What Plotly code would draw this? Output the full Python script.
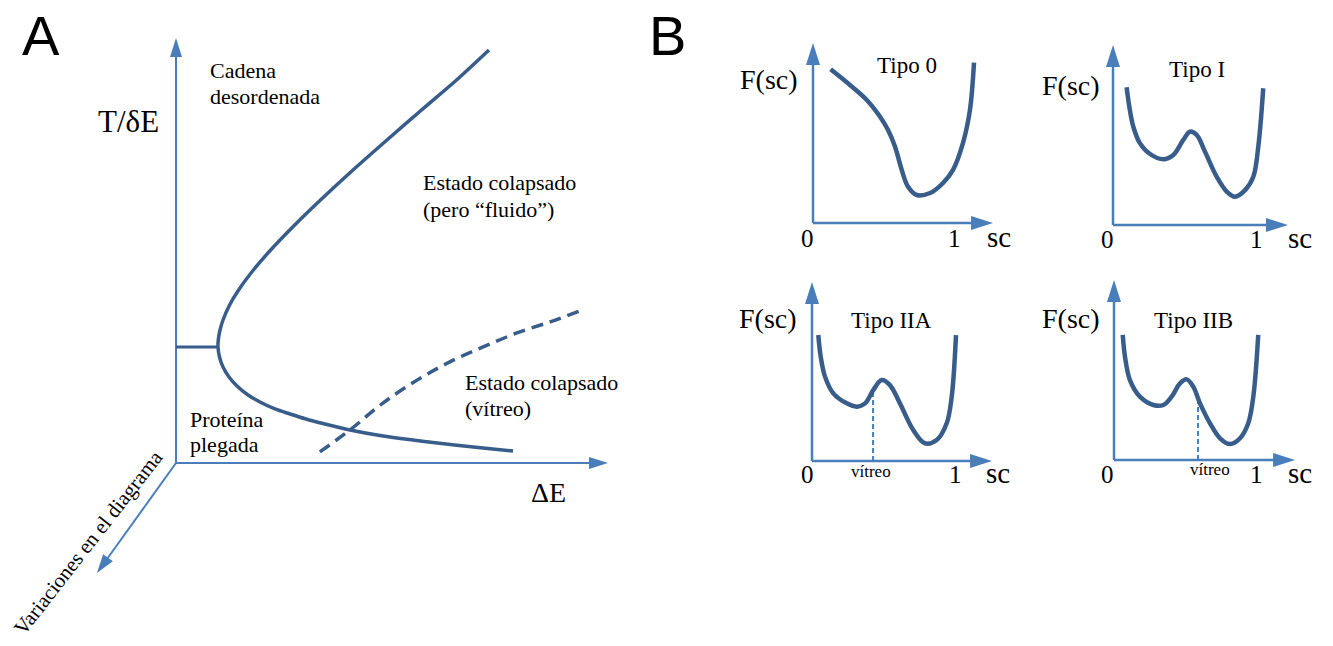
import math
import plotly.graph_objects as go

W, H = 1333, 646
SERIF = "Liberation Serif"
SANS = "Liberation Sans"
AXIS_C = "#4A7EBB"
CURVE_C = "#385D8A"

# ---------------- data ----------------
# Panel A: phase diagram, Delta E (x) vs T/dE (y), arbitrary units 0..10
A_solid_dE = [7.245, 6.495, 5.683, 4.884, 4.097, 3.345, 2.748, 2.192, 1.792, 1.449, 1.241, 1.088, 1.019, 0.979,
              0.972,
              1.007, 1.088, 1.227, 1.412, 1.667, 1.944, 2.292, 2.639, 3.009, 3.403, 4.028, 4.792, 5.949,
              7.106, 7.801]
A_solid_T = [9.718, 9.012, 8.306, 7.600, 6.894, 6.188, 5.600, 5.012, 4.541, 4.071, 3.718, 3.365, 3.129, 2.894,
             2.729,
             2.494, 2.259, 2.024, 1.812, 1.600, 1.435, 1.271, 1.153, 1.035, 0.929, 0.776, 0.635, 0.482,
             0.353, 0.282]
A_stub_dE = [0.0, 0.97]
A_stub_T = [2.73, 2.73]
A_dash_dE = [3.33, 4.03, 4.79, 5.58, 6.34, 7.11, 7.89, 8.66, 9.35]
A_dash_T = [0.26, 0.78, 1.41, 1.95, 2.38, 2.73, 3.06, 3.32, 3.58]

# Panel B: free-energy profiles F(sc), sc from 0 to 1
tipo0_sc = [0.126, 0.264, 0.384, 0.479, 0.536, 0.586, 0.634, 0.679, 0.741, 0.836, 0.929, 1.000, 1.071, 1.121, 1.150]
tipo0_F = [1.098, 0.986, 0.879, 0.759, 0.664, 0.545, 0.379, 0.259, 0.200, 0.214, 0.286, 0.379, 0.571, 0.807, 1.145]

tipoI_sc = [0.096, 0.115, 0.143, 0.190, 0.261, 0.354, 0.425, 0.495, 0.542, 0.589, 0.648, 0.730, 0.801, 0.859, 0.930, 0.988, 1.023, 1.058]
tipoI_F = [0.970, 0.833, 0.692, 0.575, 0.500, 0.463, 0.493, 0.599, 0.657, 0.634, 0.516, 0.340, 0.235, 0.199, 0.246, 0.340, 0.551, 0.963]

tipoIIA_sc = [0.044, 0.061, 0.091, 0.149, 0.243, 0.313, 0.371, 0.429, 0.487, 0.545, 0.615, 0.708, 0.790, 0.872, 0.942, 0.977, 1.007]
tipoIIA_F = [0.881, 0.729, 0.590, 0.473, 0.403, 0.380, 0.403, 0.497, 0.566, 0.531, 0.403, 0.217, 0.124, 0.147, 0.264, 0.450, 0.881]
tipoIIA_vitreo_sc = 0.427
tipoIIA_vitreo_F = 0.497

tipoIIB_sc = [0.062, 0.078, 0.113, 0.184, 0.279, 0.350, 0.409, 0.468, 0.516, 0.562, 0.610, 0.681, 0.752, 0.823, 0.894, 0.952, 0.988, 1.023]
tipoIIB_F = [0.887, 0.732, 0.567, 0.449, 0.390, 0.390, 0.449, 0.544, 0.572, 0.520, 0.402, 0.260, 0.154, 0.113, 0.154, 0.260, 0.449, 0.887]
tipoIIB_vitreo_sc = 0.596
tipoIIB_vitreo_F = 0.447

tick_labels = ["0", "1"]
B_titles = ["Tipo 0", "Tipo I", "Tipo IIA", "Tipo IIB"]

# ---------------- layout helpers ----------------
fig = go.Figure()


def make_axes(idx, ox, oy, sx, sy):
    """Axis pair whose data units map linearly onto page pixels."""
    xr = [(0 - ox) / sx, (W - ox) / sx]
    yr = [(oy - H) / sy, oy / sy]
    sfx = "" if idx == 1 else str(idx)
    common = dict(visible=False, fixedrange=True, domain=[0, 1])
    fig.update_layout(**{
        "xaxis" + sfx: dict(range=xr, anchor="y" + sfx, **common),
        "yaxis" + sfx: dict(range=yr, anchor="x" + sfx, **common),
    })
    return ("x" + sfx, "y" + sfx, sx, sy)


def arrow(ax, x0, y0, x1, y1, width, head_len, head_w, color):
    xr, yr, sx, sy = ax
    dx, dy = (x1 - x0) * sx, (y1 - y0) * sy
    n = math.hypot(dx, dy)
    ux, uy = dx / n, dy / n
    # shaft ends at the arrowhead base
    bx = x1 - ux * (head_len - 2) / sx
    by = y1 - uy * (head_len - 2) / sy
    fig.add_trace(go.Scatter(x=[x0, bx], y=[y0, by], xaxis=xr, yaxis=yr, mode="lines",
                             line=dict(color=color, width=width), hoverinfo="skip"))
    px, py = -uy * head_w / 2, ux * head_w / 2
    hx, hy = -ux * head_len, -uy * head_len
    path = f"M0,0 L{hx + px:.2f},{hy + py:.2f} L{hx - px:.2f},{hy - py:.2f} Z"
    fig.add_shape(type="path", xref=xr, yref=yr, xsizemode="pixel", ysizemode="pixel",
                  xanchor=x1, yanchor=y1, path=path, fillcolor=color,
                  line=dict(width=0), layer="above")


def txt(s, x, baseline, size, anchor="left", family=SERIF, angle=0, yc=None):
    if yc is None:
        yc = baseline - 0.34 * size
    fig.add_annotation(text=s, x=x / W, y=1 - yc / H, xref="paper", yref="paper",
                       xanchor=anchor, yanchor="middle", showarrow=False, textangle=angle,
                       borderpad=0, font=dict(family=family, size=size, color="black"))


# ---------------- Panel A ----------------
axA = make_axes(1, 176, 463, 43.2, 42.5)
arrow(axA, 0, 0, 0, 10.0, 2, 19, 12, AXIS_C)       # T/dE axis
arrow(axA, 0, 0, 10.0, 0, 2, 19, 12, AXIS_C)       # Delta E axis
arrow(axA, 0, 0, -1.83, -2.59, 2, 19, 12, AXIS_C)  # third axis

fig.add_trace(go.Scatter(x=A_solid_dE, y=A_solid_T, mode="lines", xaxis="x", yaxis="y",
                         line=dict(color=CURVE_C, width=3.5, shape="spline", smoothing=0.8),
                         hoverinfo="skip"))
fig.add_trace(go.Scatter(x=A_stub_dE, y=A_stub_T, mode="lines", xaxis="x", yaxis="y",
                         line=dict(color=CURVE_C, width=3.2), hoverinfo="skip"))
fig.add_trace(go.Scatter(x=A_dash_dE, y=A_dash_T, mode="lines", xaxis="x", yaxis="y",
                         line=dict(color=CURVE_C, width=3.5, shape="spline", dash="12px,7px"),
                         hoverinfo="skip"))

txt("A", 21, 55, 56, family=SANS)
txt("T/δE", 97, 132, 31)
txt("Cadena", 209, 78, 22)
txt("desordenada", 209, 104, 22)
txt("Estado colapsado", 422, 190, 22)
txt("(pero “fluido”)", 422, 217, 22)
txt("Estado colapsado", 464, 390, 22)
txt("(vítreo)", 464, 416, 22)
txt("Proteína", 189, 427, 22)
txt("plegada", 189, 452, 22)
txt("ΔE", 548, 502, 28, anchor="center")
txt("Variaciones en el diagrama", 88, None, 21, anchor="center", angle=-52, yc=543)

# ---------------- Panel B ----------------
txt("B", 648, 55, 56, family=SANS)

panels = [
    dict(o=(813, 223, 140), sc=tipo0_sc, F=tipo0_F, tip=(1.286, 1.286), F_lab=(769, 89), t_lab=(907, 73),
         ticks=((807, 954), 247), sc_lab=(999, 247), vit=None),
    dict(o=(1113, 225, 142), sc=tipoI_sc, F=tipoI_F, tip=(1.232, 1.268), F_lab=(1071, 95), t_lab=(1197, 77),
         ticks=((1107, 1256), 248), sc_lab=(1300, 248), vit=None),
    dict(o=(812, 461, 143), sc=tipoIIA_sc, F=tipoIIA_F, tip=(1.259, 1.252), F_lab=(768, 328), t_lab=(891, 328),
         ticks=((807, 955), 483), sc_lab=(998, 483),
         vit=(tipoIIA_vitreo_sc, tipoIIA_vitreo_F, 871, 477)),
    dict(o=(1114, 460, 141), sc=tipoIIB_sc, F=tipoIIB_F, tip=(1.284, 1.277), F_lab=(1071, 328), t_lab=(1193, 328),
         ticks=((1107, 1256), 483), sc_lab=(1300, 483),
         vit=(tipoIIB_vitreo_sc, tipoIIB_vitreo_F, 1210, 475)),
]

for i, p in enumerate(panels):
    ox, oy, s = p["o"]
    ax = make_axes(i + 2, ox, oy, s, s)
    xr, yr = ax[0], ax[1]
    arrow(ax, 0, 0, 0, p["tip"][1], 2.5, 22, 14, AXIS_C)
    arrow(ax, 0, 0, p["tip"][0], 0, 2.5, 22, 14, AXIS_C)
    if p["vit"] is not None:
        vsc, vF, vx, vb = p["vit"]
        fig.add_trace(go.Scatter(x=[vsc, vsc], y=[0, vF], mode="lines", xaxis=xr, yaxis=yr,
                                 line=dict(color=AXIS_C, width=2, dash="5px,3px"), hoverinfo="skip"))
        txt("vítreo", vx, vb, 17, anchor="center")
    fig.add_trace(go.Scatter(x=p["sc"], y=p["F"], mode="lines", xaxis=xr, yaxis=yr,
                             line=dict(color=CURVE_C, width=4.5, shape="spline", smoothing=1.0),
                             hoverinfo="skip"))
    txt("F(sc)", p["F_lab"][0], p["F_lab"][1], 28, anchor="center")
    txt(B_titles[i], p["t_lab"][0], p["t_lab"][1], 23, anchor="center")
    (t0x, t1x), tb = p["ticks"]
    txt(tick_labels[0], t0x, tb, 25, anchor="center")
    txt(tick_labels[1], t1x, tb, 25, anchor="center")
    txt("sc", p["sc_lab"][0], p["sc_lab"][1], 29, anchor="center")

fig.update_layout(width=W, height=H, autosize=False, margin=dict(l=0, r=0, t=0, b=0),
                  paper_bgcolor="white", plot_bgcolor="rgba(0,0,0,0)", showlegend=False,
                  hovermode=False)

fig.write_html("out.html", config={"displayModeBar": False, "staticPlot": True})
